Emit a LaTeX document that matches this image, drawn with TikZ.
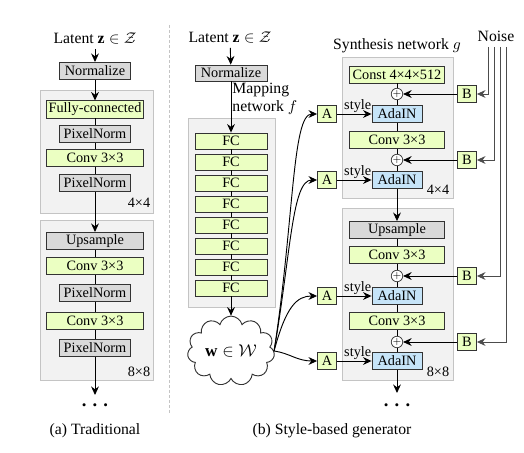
\documentclass[tikz,border=0pt]{standalone}
\usepackage{fontspec}
\setmainfont{Liberation Serif}
\usetikzlibrary{shapes.symbols,arrows.meta}
\definecolor{fcgreen}{HTML}{EBFFC2}
\definecolor{boxgray}{HTML}{D9D9D9}
\definecolor{adablue}{HTML}{C6E4F8}
\definecolor{grpfill}{HTML}{F2F2F2}
\definecolor{grpline}{HTML}{C4C4C4}
\tikzstyle{block}=[draw=black!80, line width=0.6pt, inner sep=0pt]
\tikzstyle{fcbox}=[block, fill=fcgreen]
\tikzstyle{normbox}=[block, fill=boxgray]
\tikzstyle{adabox}=[block, fill=adablue, minimum width=35pt, minimum height=11.9pt]
\tikzstyle{abbox}=[block, fill=fcgreen, minimum width=13.3pt, minimum height=11.9pt]
\tikzstyle{widebox}=[minimum width=68pt, minimum height=12pt]
\tikzstyle{narrowbox}=[minimum width=49.7pt, minimum height=12pt]
\tikzstyle{mapbox}=[minimum width=50.4pt, minimum height=11.2pt]
\tikzstyle{synbox}=[minimum width=66.5pt, minimum height=11.9pt]
\tikzstyle{group}=[draw=grpline, fill=grpfill, line width=0.6pt]
\tikzstyle{plus}=[circle, draw=black!80, fill=white, line width=0.5pt, inner sep=0pt, minimum size=7pt, font=\scriptsize]
\tikzstyle{lbl}=[font={\fontsize{11}{13}\selectfont}]
\tikzstyle{dots}=[font={\fontsize{13}{15}\selectfont\bfseries}]
\tikzstyle{noise}=[draw=black!70, line width=0.6pt, ->]

\begin{document}
\begin{tikzpicture}[x=0.7pt, y=-0.7pt, line width=0.65pt, >={Stealth[length=6pt,width=5.5pt,inset=2pt]}]
\useasboundingbox (0,0) rectangle (524,453);
% Groups
    \draw[group] (40,90) rectangle (153,213);
    \draw[group] (40,220) rectangle (153,380);
    \draw[group] (188,118) rectangle (275,307);
    \draw[group] (342,57) rectangle (453,198);
    \draw[group] (342,208) rectangle (453,380);
    \draw[dashed, dash pattern=on 2pt off 1.5pt, grpline] (169,25) -- (169,415);
% Traditional
    \node[lbl] (lat_a) at (95,38) {Latent $\mathbf{z}\in\mathcal{Z}$};
    \node[normbox, narrowbox] (norm_a) at (95,71) {Normalize};
    \node[fcbox, widebox] (fc_a) at (95,109.5) {Fully-connected};
    \node[normbox, narrowbox] (pn1_a) at (95,134) {PixelNorm};
    \node[fcbox, widebox] (conv1_a) at (95,158) {Conv 3×3};
    \node[normbox, narrowbox] (pn2_a) at (95,183) {PixelNorm};
    \node (res1_a) at (139,203) {4×4};
    \node[normbox, widebox] (up_a) at (95,241) {Upsample};
    \node[fcbox, widebox] (conv2_a) at (95,266) {Conv 3×3};
    \node[normbox, narrowbox] (pn3_a) at (95,293) {PixelNorm};
    \node[fcbox, widebox] (conv3_a) at (95,321) {Conv 3×3};
    \node[normbox, narrowbox] (pn4_a) at (95,348) {PixelNorm};
    \node (res2_a) at (139,372) {8×8};
    \coordinate (end_a) at (95,395);
    \node[dots] (dots_a) at (95,405) {. . .};
    \node[lbl] (cap_a) at (95,431) {(a) Traditional};
    \draw[->] (lat_a) -- (norm_a);
    \draw[->] (norm_a) -- (fc_a);
    \draw (fc_a) -- (pn1_a);
    \draw (pn1_a) -- (conv1_a);
    \draw (conv1_a) -- (pn2_a);
    \draw[->] (pn2_a) -- (up_a);
    \draw (up_a) -- (conv2_a);
    \draw (conv2_a) -- (pn3_a);
    \draw (pn3_a) -- (conv3_a);
    \draw (conv3_a) -- (pn4_a);
    \draw[->] (pn4_a) -- (end_a);
% Mapping network
    \node[lbl] (lat_b) at (230,37) {Latent $\mathbf{z}\in\mathcal{Z}$};
    \node[normbox, mapbox] (norm_b) at (231,73) {Normalize};
    \node[lbl, anchor=west, align=left, inner sep=0pt] (maplbl) at (232,99) {Mapping\\network $f$};
    \node[fcbox, mapbox] (fc1) at (231,141) {FC};
    \node[fcbox, mapbox] (fc2) at (231,162) {FC};
    \node[fcbox, mapbox] (fc3) at (231,183) {FC};
    \node[fcbox, mapbox] (fc4) at (231,204) {FC};
    \node[fcbox, mapbox] (fc5) at (231,225) {FC};
    \node[fcbox, mapbox] (fc6) at (231,246) {FC};
    \node[fcbox, mapbox] (fc7) at (231,267) {FC};
    \node[fcbox, mapbox] (fc8) at (231,288) {FC};
    \node[cloud, cloud puffs=11, aspect=1.3, draw=black!80, fill=white, minimum width=61pt, minimum height=48pt, inner sep=0pt, font=\large] (w) at (231,351) {$\mathbf{w}\in\mathcal{W}$};
    \draw[->] (lat_b) -- (norm_b);
    \draw[->] (norm_b) -- (fc1);
    \draw (fc1) -- (fc2);
    \draw (fc2) -- (fc3);
    \draw (fc3) -- (fc4);
    \draw (fc4) -- (fc5);
    \draw (fc5) -- (fc6);
    \draw (fc6) -- (fc7);
    \draw (fc7) -- (fc8);
    \draw[->] (fc8) -- (w);
% Synthesis network
    \node[lbl] (synlbl) at (397,46) {Synthesis network $g$};
    \node[fcbox, synbox] (const) at (397,74.5) {Const 4×4×512};
    \node[plus] (p1) at (397,94) {$+$};
    \node[adabox] (ada1) at (397,114) {AdaIN};
    \node[fcbox, synbox] (conv_b1) at (397,140) {Conv 3×3};
    \node[plus] (p2) at (397,160) {$+$};
    \node[adabox] (ada2) at (397,180) {AdaIN};
    \node (res1_b) at (438,190) {4×4};
    \node[normbox, synbox] (up_b) at (397,230) {Upsample};
    \node[fcbox, synbox] (conv_b2) at (397,255) {Conv 3×3};
    \node[plus] (p3) at (397,276) {$+$};
    \node[adabox] (ada3) at (397,296) {AdaIN};
    \node[fcbox, synbox] (conv_b3) at (397,321) {Conv 3×3};
    \node[plus] (p4) at (397,342) {$+$};
    \node[adabox] (ada4) at (397,361) {AdaIN};
    \node (res2_b) at (438,372) {8×8};
    \coordinate (end_b) at (397,393);
    \node[dots] (dots_b) at (397,405) {. . .};
    \node[lbl] (cap_b) at (332,431) {(b) Style-based generator};
    \draw (const) -- (p1);
    \draw (p1) -- (ada1);
    \draw (ada1) -- (conv_b1);
    \draw (conv_b1) -- (p2);
    \draw (p2) -- (ada2);
    \draw[->] (ada2) -- (up_b);
    \draw (up_b) -- (conv_b2);
    \draw (conv_b2) -- (p3);
    \draw (p3) -- (ada3);
    \draw (ada3) -- (conv_b3);
    \draw (conv_b3) -- (p4);
    \draw (p4) -- (ada4);
    \draw[->] (ada4) -- (end_b);
% Styles
    \node[abbox] (a1) at (327,114) {A};
    \node[abbox] (a2) at (327,180) {A};
    \node[abbox] (a3) at (327,296) {A};
    \node[abbox] (a4) at (327,361) {A};
    \draw[->] (w.east) .. controls +(20,-130) and +(-25,0) .. (a1.west);
    \draw[->] (w.east) .. controls +(17,-100) and +(-25,0) .. (a2.west);
    \draw[->] (w.east) .. controls +(12,-45) and +(-20,0) .. (a3.west);
    \draw[->] (w.east) .. controls +(15,2) and +(-20,0) .. (a4.west);
    \draw[->] (a1) -- node[above, inner sep=1pt, pos=0.6] {style} (ada1);
    \draw[->] (a2) -- node[above, inner sep=1pt, pos=0.6] {style} (ada2);
    \draw[->] (a3) -- node[above, inner sep=1pt, pos=0.6] {style} (ada3);
    \draw[->] (a4) -- node[above, inner sep=1pt, pos=0.6] {style} (ada4);
% Noise inputs
    \node[lbl] (noise) at (496,36) {Noise};
    \node[abbox] (b1) at (467,94) {B};
    \node[abbox] (b2) at (467,160) {B};
    \node[abbox] (b3) at (467,276) {B};
    \node[abbox] (b4) at (467,342) {B};
    \coordinate (n1) at (488,47);
    \coordinate (n2) at (494,47);
    \coordinate (n3) at (500,47);
    \coordinate (n4) at (506,47);
    \draw[noise] (n1) |- (b1);
    \draw[noise] (n2) |- (b2);
    \draw[noise] (n3) |- (b3);
    \draw[noise] (n4) |- (b4);
    \draw[->] (b1) -- (p1);
    \draw[->] (b2) -- (p2);
    \draw[->] (b3) -- (p3);
    \draw[->] (b4) -- (p4);
\end{tikzpicture}
\end{document}
